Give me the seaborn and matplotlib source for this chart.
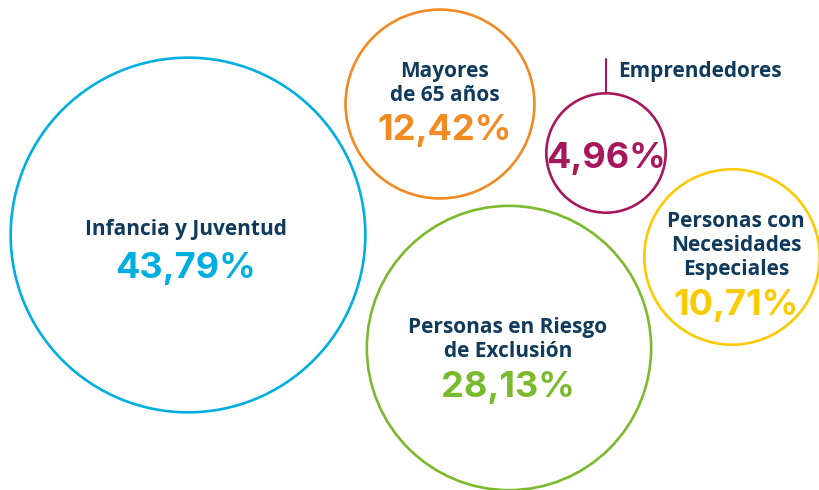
import numpy as np
import pandas as pd
import matplotlib
matplotlib.use("Agg")
import matplotlib.pyplot as plt
import seaborn as sns

# data
categories = ["Infancia y Juventud", "Mayores\nde 65 años", "Emprendedores",
              "Personas con\nNecesidades\nEspeciales", "Personas en Riesgo\nde Exclusión"]
shares = [43.79, 12.42, 4.96, 10.71, 28.13]

# layout (pixel coords, y down)
bubble_x = [188, 440, 606, 732, 509]
bubble_y = [235, 104, 153, 257, 348]
text_x = [186, 445, 606, 736, 508]
label_base = [235, 77, 77, 227, 333]
pct_base = [278, 140, 168, 315, 397]
colors = ["#00AEDF", "#F18A21", "#A6175B", "#FDC900", "#7BBA2C"]
navy = "#0F3A5C"

sns.set_theme(style="white")
plt.rcParams["font.family"] = ["Open Sans", "DejaVu Sans"]

fig = plt.figure(figsize=(8.2, 4.9), dpi=100)
ax = fig.add_axes([0, 0, 1, 1])

df = pd.DataFrame({"cat": categories, "share": shares, "x": bubble_x, "y": bubble_y})
palette = dict(zip(categories, colors))

# bubble area proportional to share: radius = k * sqrt(share) px
k = 26.8
s_max = (2 * k * np.sqrt(100) * 72 / 100) ** 2
sns.scatterplot(data=df, x="x", y="y", hue="cat", palette=palette,
                size="share", sizes=(0, s_max), size_norm=(0, 100),
                linewidth=1.9, legend=False, ax=ax)
pts = ax.collections[0]
pts.set_edgecolors(pts.get_facecolors())
pts.set_facecolors("none")

for i, cat in enumerate(categories):
    pct = f"{shares[i]:.2f}".replace(".", ",") + "%"
    ax.text(text_x[i], pct_base[i], pct, ha="center", va="baseline",
            fontsize=26, fontweight="bold", color=colors[i],
            family=["Inter", "Open Sans", "DejaVu Sans"])
    if cat == "Emprendedores":
        r = k * np.sqrt(shares[i])
        ax.plot([bubble_x[i], bubble_x[i]], [bubble_y[i] - r - 34, bubble_y[i] - r],
                color=colors[i], lw=1.5)
        ax.text(618, label_base[i], cat, ha="left", va="baseline",
                fontsize=15, fontweight="bold", color=navy)
        continue
    for j, line in enumerate(cat.split("\n")):
        ax.text(text_x[i], label_base[i] + 24 * j, line, ha="center", va="baseline",
                fontsize=15, fontweight="bold", color=navy)

ax.set_xlim(0, 820)
ax.set_ylim(490, 0)
ax.axis("off")

fig.savefig("out.png", dpi=100)
